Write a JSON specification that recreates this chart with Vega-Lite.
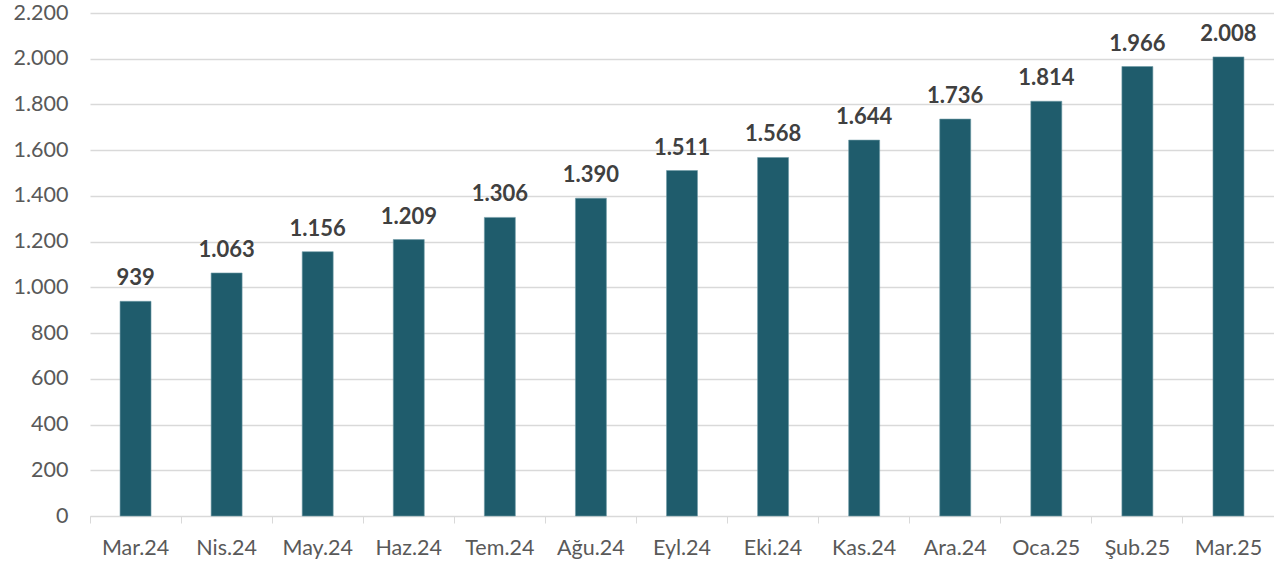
{
  "$schema": "https://vega.github.io/schema/vega-lite/v6.json",
  "width": 1184,
  "height": 503,
  "autosize": {"type": "none"},
  "padding": {"left": 90, "top": 13, "right": 0, "bottom": 50},
  "config": {
    "view": {"stroke": null},
    "locale": {"number": {"decimal": ",", "thousands": ".", "grouping": [3], "currency": ["", ""]}},
    "font": "Lato"
  },
  "data": {
    "values": [
      {"ay": "Mar.24", "deger": 939},
      {"ay": "Nis.24", "deger": 1063},
      {"ay": "May.24", "deger": 1156},
      {"ay": "Haz.24", "deger": 1209},
      {"ay": "Tem.24", "deger": 1306},
      {"ay": "Ağu.24", "deger": 1390},
      {"ay": "Eyl.24", "deger": 1511},
      {"ay": "Eki.24", "deger": 1568},
      {"ay": "Kas.24", "deger": 1644},
      {"ay": "Ara.24", "deger": 1736},
      {"ay": "Oca.25", "deger": 1814},
      {"ay": "Şub.25", "deger": 1966},
      {"ay": "Mar.25", "deger": 2008}
    ]
  },
  "encoding": {
    "x": {
      "field": "ay", "type": "nominal", "sort": null,
      "scale": {"paddingInner": 0, "paddingOuter": 0},
      "axis": {
        "title": null, "labelAngle": 0, "labelFontSize": 21.5, "labelColor": "#595959",
        "labelFont": "Lato", "labelPadding": 14, "domainColor": "#d9d9d9", "domainWidth": 1,
        "tickColor": "#d9d9d9", "tickSize": 7, "bandPosition": 0, "grid": false
      }
    },
    "y": {
      "field": "deger", "type": "quantitative",
      "scale": {"domain": [0, 2200], "nice": false},
      "axis": {
        "title": null, "values": [0, 200, 400, 600, 800, 1000, 1200, 1400, 1600, 1800, 2000, 2200],
        "format": ",d", "labelFontSize": 21.5, "labelColor": "#595959", "labelFont": "Lato",
        "labelPadding": 22, "ticks": false, "domain": false,
        "gridColor": "#d9d9d9", "gridWidth": 1.3
      }
    }
  },
  "layer": [
    {
      "mark": {"type": "bar", "width": {"band": 0.34}, "color": "#1f5c6c", "stroke": "#6f9aa6", "strokeWidth": 0.6}
    },
    {
      "mark": {"type": "text", "baseline": "alphabetic", "dy": -16, "fontSize": 22, "fontWeight": "bold", "color": "#404040", "font": "Lato"},
      "encoding": {"text": {"field": "deger", "type": "quantitative", "format": ",d"}}
    }
  ]
}
